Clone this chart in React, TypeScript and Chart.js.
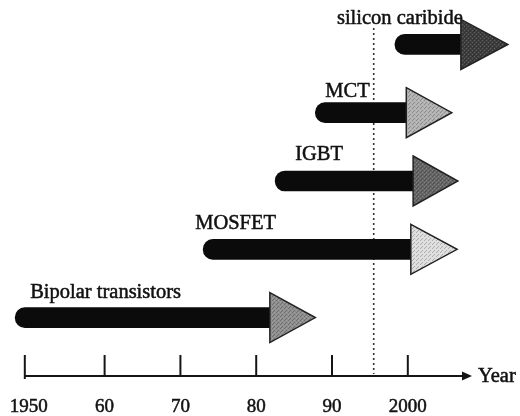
import React, { useEffect, useRef } from 'react';
import { Chart, registerables } from 'chart.js';

Chart.register(...registerables);

// ---- data ----
const TECHNOLOGIES = ['Bipolar transistors', 'MOSFET', 'IGBT', 'MCT', 'silicon caribide'];
const ROWS = [0, 1, 2, 3, 4];
const START_YEARS = [1948.2, 1973.0, 1982.5, 1987.8, 1998.3];
const HEAD_BASE_YEARS = [1981.8, 2000.4, 2000.7, 1999.8, 2007.0];
const HEAD_TIP_YEARS = [1987.8, 2006.5, 2006.6, 2005.8, 2013.2];
const TICK_YEARS = [1950, 1960, 1970, 1980, 1990, 2000];
const TICK_LABELS = ['1950', '60', '70', '80', '90', '2000'];
const DIVIDER_YEAR = 1995.5;
const AXIS_TITLE = 'Year';

// ---- styles ----
const FONT = "'Liberation Serif', 'Times New Roman', serif";
const INK = '#111111';
const HEAD_COLORS = ['#8e8e8e', '#dedede', '#666666', '#b2b2b2', '#3e3e3e'];
const LABEL_OFFSETS: [number, number][] = [
  [15, -20],
  [-8, -20],
  [20, -21],
  [10, -16],
  [-58, -20],
];
const HEAD_HALF = 25;

function makePattern(ctx: CanvasRenderingContext2D, color: string) {
  const c = document.createElement('canvas');
  c.width = 4;
  c.height = 4;
  const p = c.getContext('2d')!;
  p.fillStyle = color;
  p.fillRect(0, 0, 4, 4);
  p.fillStyle = 'rgba(0,0,0,0.22)';
  p.fillRect(0, 0, 1, 1);
  p.fillRect(2, 2, 1, 1);
  p.fillRect(1, 3, 1, 1);
  p.fillStyle = 'rgba(255,255,255,0.18)';
  p.fillRect(2, 0, 1, 1);
  p.fillRect(0, 2, 1, 1);
  return ctx.createPattern(c, 'repeat') || color;
}

function heavyText(ctx: CanvasRenderingContext2D, text: string, x: number, y: number) {
  ctx.fillText(text, x, y);
  ctx.lineWidth = 0.5;
  ctx.strokeStyle = INK;
  ctx.strokeText(text, x, y);
}

const arrowPlugin = {
  id: 'arrowPlugin',
  beforeDatasetsDraw(chart: any) {
    const { ctx, chartArea } = chart;
    const xs = chart.scales.x;
    const x = xs.getPixelForValue(DIVIDER_YEAR);
    ctx.save();
    ctx.strokeStyle = '#333';
    ctx.lineWidth = 1.6;
    ctx.setLineDash([2, 3]);
    ctx.beginPath();
    ctx.moveTo(x, 28);
    ctx.lineTo(x, chartArea.bottom - 2);
    ctx.stroke();
    ctx.restore();
  },
  afterDatasetsDraw(chart: any) {
    const { ctx } = chart;
    const xs = chart.scales.x;
    const ys = chart.scales.y;
    ctx.save();
    TECHNOLOGIES.forEach((name, i) => {
      const yc = ys.getPixelForValue(ROWS[i]);
      const xb = xs.getPixelForValue(HEAD_BASE_YEARS[i]);
      const xt = xs.getPixelForValue(HEAD_TIP_YEARS[i]);
      const xs0 = xs.getPixelForValue(START_YEARS[i]);
      // label
      ctx.fillStyle = INK;
      ctx.font = `20.5px ${FONT}`;
      ctx.textAlign = 'left';
      ctx.textBaseline = 'alphabetic';
      heavyText(ctx, name, xs0 + LABEL_OFFSETS[i][0], yc + LABEL_OFFSETS[i][1]);
      // head
      ctx.beginPath();
      ctx.moveTo(xb, yc - HEAD_HALF);
      ctx.lineTo(xt, yc);
      ctx.lineTo(xb, yc + HEAD_HALF);
      ctx.closePath();
      ctx.fillStyle = makePattern(ctx, HEAD_COLORS[i]);
      ctx.fill();
      ctx.lineWidth = 1.5;
      ctx.strokeStyle = '#222';
      ctx.lineJoin = 'miter';
      ctx.stroke();
    });
    ctx.restore();
  },
  afterDraw(chart: any) {
    const { ctx, chartArea } = chart;
    const xs = chart.scales.x;
    const y = chartArea.bottom;
    const x0 = xs.getPixelForValue(TICK_YEARS[0]) - 4;
    const xEnd = 472;
    ctx.save();
    ctx.strokeStyle = '#151515';
    ctx.fillStyle = '#151515';
    ctx.lineWidth = 2;
    ctx.beginPath();
    ctx.moveTo(x0, y);
    ctx.lineTo(xEnd - 8, y);
    ctx.stroke();
    ctx.beginPath();
    ctx.moveTo(xEnd - 10, y - 4.5);
    ctx.lineTo(xEnd, y);
    ctx.lineTo(xEnd - 10, y + 4.5);
    ctx.closePath();
    ctx.fill();
    TICK_YEARS.forEach((v, i) => {
      const tx = i === 0 ? x0 : xs.getPixelForValue(v);
      ctx.beginPath();
      ctx.moveTo(tx, y - 21);
      ctx.lineTo(tx, y + (i === 0 ? 3 : 0));
      ctx.stroke();
    });
    ctx.font = `20.5px ${FONT}`;
    ctx.textAlign = 'left';
    ctx.textBaseline = 'middle';
    ctx.fillStyle = INK;
    heavyText(ctx, AXIS_TITLE, 478, y + 1);
    ctx.restore();
  },
};

export default function App() {
  const ref = useRef<HTMLCanvasElement | null>(null);
  useEffect(() => {
    document.body.style.margin = '0';
    const canvas = ref.current!;
    const chart = new Chart(canvas, {
      type: 'bar',
      data: {
        datasets: [
          {
            data: TECHNOLOGIES.map((t, i) => ({ x: [START_YEARS[i], HEAD_BASE_YEARS[i]], y: ROWS[i] })) as any,
            backgroundColor: '#0b0b0b',
            barThickness: 20,
            borderSkipped: false,
            borderWidth: 0,
            borderRadius: { topLeft: 10, bottomLeft: 10, topRight: 0, bottomRight: 0 },
          } as any,
        ],
      },
      options: {
        indexAxis: 'y',
        animation: false,
        responsive: false,
        events: [],
        layout: { padding: 0 },
        plugins: { legend: { display: false }, tooltip: { enabled: false } },
        scales: {
          x: {
            type: 'linear',
            min: 1946.2,
            max: 2014.8,
            offset: false,
            grid: { display: false },
            border: { display: false },
            afterBuildTicks: (s: any) => {
              s.ticks = TICK_YEARS.map((v) => ({ value: v }));
            },
            afterFit: (s: any) => {
              s.height = 40;
              s.paddingLeft = 0;
              s.paddingRight = 0;
            },
            ticks: {
              padding: 12,
              autoSkip: false,
              maxRotation: 0,
              color: INK,
              textStrokeColor: INK,
              textStrokeWidth: 0.5,
              font: { family: FONT, size: 19 },
              callback: (v: any, i: number) => TICK_LABELS[i],
            },
          } as any,
          y: { type: 'linear', min: -0.855, max: 4.65, display: false, offset: false } as any,
        },
      },
      plugins: [arrowPlugin],
    });
    return () => chart.destroy();
  }, []);
  return (
    <div style={{ width: 520, height: 416, background: '#fff' }}>
      <canvas ref={ref} width={520} height={416} style={{ display: 'block', width: 520, height: 416 }} />
    </div>
  );
}
